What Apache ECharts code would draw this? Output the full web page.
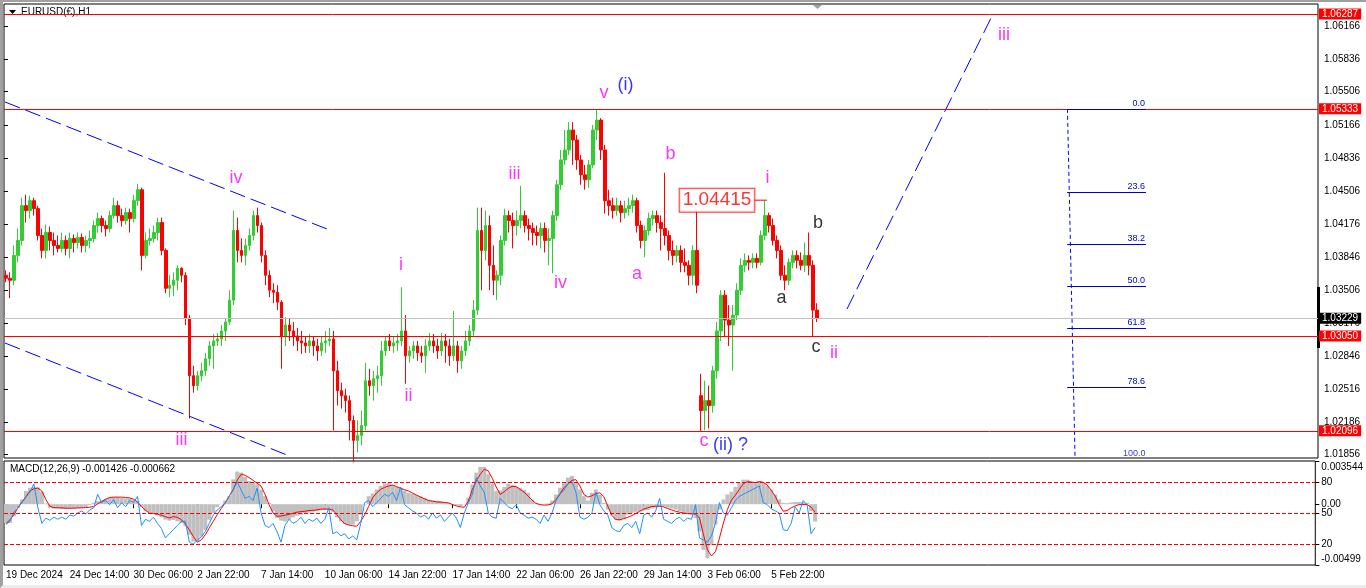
<!DOCTYPE html>
<html><head><meta charset="utf-8">
<script src="https://cdn.jsdelivr.net/npm/echarts@6/dist/echarts.min.js"></script>
<style>
html,body{margin:0;padding:0;background:#fff;}
#c{position:absolute;left:0;top:0;width:1366px;height:588px;}
#frame{position:absolute;left:0;top:0;width:1366px;height:588px;box-sizing:border-box;border-top:2px solid #a0a0a0;border-left:3px solid #a0a0a0;border-bottom:3px solid #ececec;pointer-events:none;}
</style></head><body>
<div id="c"></div><div id="frame"></div>
<script>
// ---- data (H1 EURUSD, aggregated 4 bars per candle: [open, close, low, high]) ----
const candles = [
[1.0366,1.0363,1.0359,1.0371],[1.0363,1.0361,1.0343,1.0369],[1.0361,1.0386,1.0356,1.0396],[1.0386,1.0401,1.0379,1.0413],
[1.0401,1.0436,1.0396,1.0444],[1.0436,1.0431,1.0419,1.0447],[1.0431,1.0441,1.0423,1.0446],[1.0441,1.0433,1.0426,1.0444],
[1.0433,1.0406,1.0401,1.0436],[1.0406,1.0391,1.0383,1.0413],[1.0391,1.0409,1.0383,1.0417],[1.0409,1.0401,1.0391,1.0415],
[1.0401,1.0396,1.0386,1.0409],[1.0396,1.0393,1.0389,1.0406],[1.0393,1.0401,1.0389,1.0409],[1.0401,1.0393,1.0386,1.0406],
[1.0393,1.0403,1.0383,1.0409],[1.0403,1.0399,1.0389,1.0407],[1.0399,1.0404,1.0393,1.0409],[1.0404,1.0396,1.0389,1.0408],
[1.0396,1.0401,1.0389,1.0406],[1.0401,1.0403,1.0393,1.0411],[1.0403,1.0416,1.0399,1.0421],[1.0416,1.0423,1.0409,1.0429],
[1.0423,1.0416,1.0409,1.0426],[1.0416,1.0413,1.0405,1.0421],[1.0413,1.0426,1.0409,1.0431],[1.0426,1.0436,1.0423,1.0444],
[1.0436,1.0426,1.0419,1.0441],[1.0426,1.0421,1.0415,1.0433],[1.0421,1.0429,1.0417,1.0434],[1.0429,1.0423,1.0409,1.0433],
[1.0423,1.0441,1.0419,1.0447],[1.0441,1.0452,1.0436,1.0458],[1.0452,1.0386,1.0371,1.0454],[1.0386,1.0401,1.0383,1.0409],
[1.0401,1.0403,1.0396,1.0413],[1.0403,1.0409,1.0399,1.0416],[1.0409,1.0419,1.0401,1.0424],[1.0419,1.0391,1.0386,1.0424],
[1.0391,1.0353,1.0348,1.0393],[1.0353,1.0356,1.0344,1.0366],[1.0356,1.0361,1.0345,1.0369],[1.0361,1.0373,1.0351,1.0376],
[1.0373,1.0366,1.0359,1.0374],[1.0366,1.0323,1.0316,1.0369],[1.0323,1.0265,1.0222,1.0326],[1.0265,1.0255,1.0248,1.0275],
[1.0255,1.0265,1.0250,1.0270],[1.0265,1.0270,1.0260,1.0278],[1.0270,1.0282,1.0265,1.0288],[1.0282,1.0295,1.0275,1.0300],
[1.0295,1.0300,1.0272,1.0307],[1.0300,1.0302,1.0295,1.0308],[1.0302,1.0310,1.0295,1.0316],[1.0310,1.0319,1.0300,1.0323],
[1.0319,1.0341,1.0316,1.0351],[1.0341,1.0411,1.0336,1.0431],[1.0411,1.0391,1.0379,1.0424],[1.0391,1.0386,1.0379,1.0403],
[1.0386,1.0396,1.0376,1.0403],[1.0396,1.0406,1.0391,1.0413],[1.0406,1.0426,1.0401,1.0431],[1.0426,1.0416,1.0409,1.0434],
[1.0416,1.0386,1.0379,1.0419],[1.0386,1.0366,1.0356,1.0391],[1.0366,1.0351,1.0344,1.0371],[1.0351,1.0349,1.0338,1.0358],
[1.0349,1.0339,1.0331,1.0356],[1.0339,1.0305,1.0272,1.0341],[1.0305,1.0316,1.0295,1.0324],[1.0316,1.0310,1.0300,1.0323],
[1.0310,1.0305,1.0295,1.0319],[1.0305,1.0300,1.0290,1.0313],[1.0300,1.0298,1.0287,1.0310],[1.0298,1.0295,1.0288,1.0305],
[1.0295,1.0300,1.0288,1.0307],[1.0300,1.0295,1.0285,1.0305],[1.0295,1.0290,1.0280,1.0302],[1.0290,1.0298,1.0285,1.0305],
[1.0298,1.0300,1.0288,1.0310],[1.0300,1.0302,1.0295,1.0313],[1.0302,1.0270,1.0210,1.0310],[1.0270,1.0250,1.0235,1.0280],
[1.0250,1.0245,1.0232,1.0258],[1.0245,1.0240,1.0228,1.0252],[1.0240,1.0220,1.0200,1.0245],[1.0220,1.0200,1.0178,1.0225],
[1.0200,1.0205,1.0188,1.0220],[1.0205,1.0215,1.0195,1.0230],[1.0215,1.0260,1.0210,1.0278],[1.0260,1.0255,1.0245,1.0272],
[1.0255,1.0262,1.0240,1.0270],[1.0262,1.0265,1.0248,1.0275],[1.0265,1.0290,1.0255,1.0300],[1.0290,1.0300,1.0285,1.0305],
[1.0300,1.0295,1.0290,1.0307],[1.0295,1.0298,1.0288,1.0305],[1.0298,1.0300,1.0290,1.0307],[1.0300,1.0310,1.0295,1.0354],
[1.0310,1.0285,1.0257,1.0326],[1.0285,1.0290,1.0278,1.0295],[1.0290,1.0295,1.0282,1.0300],[1.0295,1.0288,1.0280,1.0300],
[1.0288,1.0285,1.0278,1.0295],[1.0285,1.0295,1.0268,1.0302],[1.0295,1.0300,1.0290,1.0308],[1.0300,1.0295,1.0288,1.0307],
[1.0295,1.0290,1.0282,1.0302],[1.0290,1.0300,1.0285,1.0308],[1.0300,1.0295,1.0278,1.0307],[1.0295,1.0285,1.0275,1.0302],
[1.0285,1.0295,1.0280,1.0330],[1.0295,1.0280,1.0268,1.0300],[1.0280,1.0290,1.0272,1.0295],[1.0290,1.0300,1.0285,1.0310],
[1.0300,1.0310,1.0295,1.0316],[1.0310,1.0331,1.0305,1.0341],[1.0331,1.0411,1.0326,1.0434],[1.0411,1.0391,1.0351,1.0434],
[1.0391,1.0416,1.0381,1.0431],[1.0416,1.0376,1.0351,1.0426],[1.0376,1.0361,1.0346,1.0396],[1.0361,1.0366,1.0341,1.0371],
[1.0366,1.0401,1.0356,1.0406],[1.0401,1.0426,1.0396,1.0433],[1.0426,1.0421,1.0409,1.0431],[1.0421,1.0416,1.0393,1.0429],
[1.0416,1.0421,1.0406,1.0431],[1.0421,1.0426,1.0413,1.0456],[1.0426,1.0416,1.0409,1.0431],[1.0416,1.0413,1.0401,1.0423],
[1.0413,1.0409,1.0396,1.0419],[1.0409,1.0406,1.0396,1.0416],[1.0406,1.0413,1.0393,1.0419],[1.0413,1.0401,1.0389,1.0419],
[1.0401,1.0403,1.0376,1.0413],[1.0403,1.0426,1.0368,1.0431],[1.0426,1.0457,1.0421,1.0462],[1.0457,1.0482,1.0452,1.0492],
[1.0482,1.0492,1.0477,1.0512],[1.0492,1.0512,1.0487,1.0520],[1.0512,1.0502,1.0477,1.0520],[1.0502,1.0482,1.0472,1.0507],
[1.0482,1.0467,1.0457,1.0487],[1.0467,1.0462,1.0452,1.0477],[1.0462,1.0477,1.0454,1.0482],[1.0477,1.0512,1.0474,1.0517],
[1.0512,1.0522,1.0502,1.0533],[1.0522,1.0492,1.0482,1.0524],[1.0492,1.0441,1.0428,1.0497],[1.0441,1.0436,1.0426,1.0452],
[1.0436,1.0431,1.0423,1.0444],[1.0431,1.0436,1.0426,1.0444],[1.0436,1.0429,1.0419,1.0441],[1.0429,1.0433,1.0423,1.0441],
[1.0433,1.0436,1.0426,1.0444],[1.0436,1.0441,1.0429,1.0447],[1.0441,1.0416,1.0409,1.0444],[1.0416,1.0401,1.0393,1.0421],
[1.0401,1.0411,1.0384,1.0416],[1.0411,1.0423,1.0406,1.0429],[1.0423,1.0426,1.0416,1.0431],[1.0426,1.0419,1.0409,1.0431],
[1.0419,1.0413,1.0391,1.0426],[1.0413,1.0406,1.0396,1.0469],[1.0406,1.0391,1.0381,1.0411],[1.0391,1.0386,1.0376,1.0401],
[1.0386,1.0391,1.0379,1.0396],[1.0391,1.0379,1.0369,1.0396],[1.0379,1.0376,1.0369,1.0393],[1.0376,1.0366,1.0356,1.0381],
[1.0366,1.0391,1.0356,1.0396],[1.0391,1.0356,1.0348,1.0431],[1.0245,1.0230,1.02096,1.0267],[1.0230,1.0240,1.0210,1.0260],
[1.0240,1.0235,1.0212,1.0255],[1.0235,1.0270,1.0228,1.0275],[1.0270,1.0310,1.0262,1.0319],[1.0310,1.0346,1.0300,1.0351],
[1.0346,1.0321,1.0305,1.0351],[1.0321,1.0316,1.0295,1.0336],[1.0316,1.0326,1.0270,1.0336],[1.0326,1.0351,1.0321,1.0358],
[1.0351,1.0376,1.0346,1.0383],[1.0376,1.0381,1.0369,1.0388],[1.0381,1.0379,1.0371,1.0386],[1.0379,1.0383,1.0373,1.0388],
[1.0383,1.0379,1.0373,1.0388],[1.0379,1.0406,1.0376,1.0411],[1.0406,1.0426,1.0401,1.04415],[1.0426,1.0416,1.0409,1.0429],
[1.0416,1.0401,1.0396,1.0423],[1.0401,1.0391,1.0383,1.0406],[1.0391,1.0366,1.0361,1.0396],[1.0366,1.0361,1.0351,1.0376],
[1.0361,1.0379,1.0356,1.0383],[1.0379,1.0386,1.0373,1.0391],[1.0386,1.0381,1.0373,1.0391],[1.0381,1.0376,1.0371,1.0389],
[1.0376,1.0386,1.0369,1.0399],[1.0386,1.0376,1.0366,1.0409],[1.0376,1.0331,1.0305,1.0381],[1.0331,1.0323,1.0319,1.0338]
];
const macdHist = [
-0.00155,-0.00155,-0.00099,-0.00030,0.00039,0.00108,0.00135,0.00141,0.00138,0.00102,
0.00006,-0.00030,-0.00036,-0.00036,-0.00039,-0.00039,-0.00036,-0.00036,-0.00033,-0.00030,
-0.00025,-0.00008,0.00011,0.00025,0.00030,0.00044,0.00052,0.00058,0.00058,0.00052,
0.00047,0.00047,0.00039,0.00025,-0.00025,-0.00058,-0.00066,-0.00072,-0.00086,-0.00108,
-0.00127,-0.00135,-0.00130,-0.00141,-0.00155,-0.00182,-0.00251,-0.00306,-0.00301,-0.00265,
-0.00210,-0.00127,-0.00072,-0.00025,0.00003,0.00030,0.00066,0.00204,0.00268,0.00259,
0.00224,0.00190,0.00179,0.00163,0.00121,0.00066,0.00011,-0.00058,-0.00113,-0.00135,
-0.00141,-0.00127,-0.00108,-0.00094,-0.00086,-0.00075,-0.00069,-0.00061,-0.00055,-0.00050,
-0.00047,-0.00047,-0.00063,-0.00108,-0.00141,-0.00163,-0.00168,-0.00168,-0.00141,-0.00086,
-0.00003,0.00066,0.00088,0.00121,0.00149,0.00171,0.00177,0.00157,0.00141,0.00135,
0.00113,0.00094,0.00086,0.00075,0.00066,0.00052,0.00039,0.00030,0.00028,0.00025,
0.00019,0.00011,-0.00003,-0.00008,-0.00017,-0.00003,0.00052,0.00163,0.00259,0.00306,
0.00306,0.00246,0.00168,0.00108,0.00113,0.00141,0.00168,0.00157,0.00141,0.00135,
0.00119,0.00094,0.00039,0.00008,0.00003,0.00003,0.00006,0.00030,0.00080,0.00135,
0.00177,0.00218,0.00232,0.00177,0.00121,0.00066,0.00030,0.00094,0.00121,0.00080,
0.00011,-0.00044,-0.00091,-0.00127,-0.00135,-0.00119,-0.00086,-0.00072,-0.00063,-0.00058,
-0.00052,-0.00047,-0.00036,-0.00030,-0.00022,-0.00019,-0.00030,-0.00036,-0.00044,-0.00058,
-0.00069,-0.00075,-0.00077,-0.00113,-0.00224,-0.00375,-0.00444,-0.00334,-0.00168,-0.00044,
0.00039,0.00080,0.00102,0.00141,0.00177,0.00201,0.00201,0.00185,0.00179,0.00190,
0.00177,0.00149,0.00121,0.00080,0.00039,0.00011,0.00008,0.00014,0.00019,0.00019,
0.00017,0.00011,-0.00058,-0.00143
];
const macdSignal = [
-0.00160,-0.00127,-0.00086,-0.00030,0.00019,0.00061,0.00108,0.00127,0.00132,0.00108,
0.00039,-0.00017,-0.00028,-0.00030,-0.00030,-0.00033,-0.00033,-0.00033,-0.00030,-0.00030,
-0.00028,-0.00025,-0.00019,0.00003,0.00022,0.00041,0.00055,0.00058,0.00058,0.00058,
0.00055,0.00052,0.00041,0.00017,-0.00019,-0.00050,-0.00072,-0.00077,-0.00083,-0.00091,
-0.00102,-0.00113,-0.00102,-0.00108,-0.00127,-0.00163,-0.00210,-0.00265,-0.00312,-0.00293,
-0.00251,-0.00196,-0.00141,-0.00086,-0.00036,0.00011,0.00066,0.00121,0.00196,0.00246,
0.00237,0.00218,0.00196,0.00171,0.00149,0.00080,-0.00003,-0.00072,-0.00099,-0.00097,
-0.00091,-0.00083,-0.00075,-0.00066,-0.00061,-0.00058,-0.00052,-0.00050,-0.00047,-0.00041,
-0.00039,-0.00041,-0.00047,-0.00086,-0.00127,-0.00160,-0.00171,-0.00177,-0.00182,-0.00141,
-0.00086,-0.00017,0.00052,0.00094,0.00121,0.00138,0.00149,0.00157,0.00144,0.00130,
0.00119,0.00108,0.00091,0.00075,0.00058,0.00044,0.00030,0.00025,0.00019,0.00017,
0.00014,0.00011,-0.00003,-0.00014,-0.00022,-0.00025,0.00025,0.00121,0.00190,0.00246,
0.00287,0.00273,0.00213,0.00141,0.00080,0.00102,0.00130,0.00146,0.00144,0.00121,
0.00099,0.00066,0.00033,0.00006,-0.00003,-0.00008,-0.00006,0.00003,0.00039,0.00086,
0.00135,0.00168,0.00196,0.00201,0.00149,0.00080,0.00058,0.00069,0.00086,0.00094,
0.00061,-0.00017,-0.00091,-0.00127,-0.00127,-0.00119,-0.00108,-0.00094,-0.00077,-0.00058,
-0.00041,-0.00030,-0.00019,-0.00017,-0.00017,-0.00022,-0.00036,-0.00047,-0.00058,-0.00066,
-0.00072,-0.00077,-0.00080,-0.00080,-0.00113,-0.00251,-0.00375,-0.00425,-0.00389,-0.00279,
-0.00155,-0.00044,0.00033,0.00075,0.00121,0.00168,0.00185,0.00182,0.00177,0.00185,
0.00179,0.00157,0.00113,0.00066,-0.00003,-0.00058,-0.00052,-0.00030,-0.00014,-0.00003,
-0.00003,-0.00003,-0.00025,-0.00066
];
const oscLine = [
39,42,51,55,60,65,70,78,55,40, 45,43,46,44,46,44,48,47,50,52,
49,53,55,68,60,62,58,63,55,60, 56,62,60,66,38,44,42,46,40,35,
26,30,34,38,42,42,22,20,24,27, 32,40,48,53,56,60,66,72,80,72,
64,66,62,74,50,38,36,40,32,22, 38,44,40,42,46,40,44,42,45,40,
44,55,30,32,28,30,25,28,24,40, 60,62,56,60,64,68,66,70,62,75,
58,55,52,50,46,48,44,50,45,48, 42,46,50,45,36,50,60,68,84,76,
70,50,46,45,64,60,56,54,58,50, 48,45,46,44,40,48,42,50,62,68,
72,78,80,70,46,44,46,50,70,58, 52,48,36,33,32,38,40,36,42,30,
48,50,46,52,64,44,42,40,44,46, 42,45,44,58,26,24,22,28,40,60,
50,48,55,62,66,68,70,72,74,76, 60,58,54,52,50,34,33,40,56,50,
62,58,30,36
];
const oscLevels = [80, 50, 20];
const tickLabels = ['19 Dec 2024','24 Dec 14:00','30 Dec 06:00','2 Jan 22:00','7 Jan 14:00','10 Jan 06:00','14 Jan 22:00','17 Jan 14:00','22 Jan 06:00','26 Jan 22:00','29 Jan 14:00','3 Feb 06:00','5 Feb 22:00'];
const slotsPerTick = 16;
const nSlots = 329;
const priceTicks = [1.01856,1.02186,1.02516,1.02846,1.03176,1.03506,1.03846,1.04176,1.04506,1.04836,1.05166,1.05506,1.05836,1.06166];
const priceRange = [1.018231, 1.063872];
const macdRange = [-0.00499, 0.003544];
const redLevels = [1.06287, 1.05333, 1.03050, 1.02096];
const bidPrice = 1.03229;
const axisBar = [1.03542, 1.02929];
// annotations: [text, slot, price]
const magentaLabels = [['iv',58.09,1.04638],['iii',44.44,1.02004],['i',99.40,1.03763],['ii',101.28,1.02446],['iii',127.82,1.04678],['iv',139.33,1.03582],['v',150.23,1.05492],['b',166.88,1.04879],['a',158.49,1.03673],['i',191.16,1.04638],['c',175.26,1.01994],['iii',250.38,1.06071],['ii',207.81,1.02879]];
const blueLabels = [['(i)',155.61,1.05573],['(ii) ?',181.9,1.01954]];
const blackLabels = [['b',203.81,1.04186],['a',194.67,1.03432],['c',203.30,1.02934]];
const trendLines = [[[0.25,1.05402],[80.87,1.04125]],[[0.25,1.02979],[70.86,1.01853]],[[211.07,1.03321],[247.63,1.06287]]];
const fibAnchors = [[266.27,1.05333],[268.2,1.0177]];
const fibSpan = [266.2, 285.93];
const fibLevels = [0, 23.6, 38.2, 50.0, 61.8, 78.6];
const priceTag = ['1.04415', 178.52, 1.04415];
const priceTagLine = [[187.78,1.04415],[191.04,1.04415]];

// ---- chart ----
const FONT = '"Liberation Sans", Arial, sans-serif';
const categories = Array.from({length: nSlots}, (_, i) => String(i));
const chart = echarts.init(document.getElementById('c'), null, {renderer: 'canvas'});
const fibHigh = fibAnchors[0][1], fibLow = fibAnchors[1][1];
const showTick = (i) => i % slotsPerTick === 0 && i / slotsPerTick < tickLabels.length;
const labelSeries = (arr, color) => ({
  type: 'scatter', xAxisIndex: 1, yAxisIndex: 0, symbolSize: 1, silent: true, z: 10,
  itemStyle: {color: 'rgba(0,0,0,0)'},
  label: {show: true, position: 'inside', color: color, fontSize: 18, fontFamily: FONT},
  data: arr.map(([t, x, p]) => ({value: [x, p], label: {formatter: t}}))
});
const boxLabel = (v, bg) => ({show: true, position: 'end', distance: 1, formatter: v.toFixed(5), backgroundColor: bg, color: '#fff', padding: [1, 3, 0, 3], fontSize: 10, fontFamily: FONT});
const series = [
  {type: 'candlestick', xAxisIndex: 0, yAxisIndex: 0, data: candles, barWidth: 3, silent: true,
   itemStyle: {color: '#32cd32', color0: '#ff0000', borderColor: '#32cd32', borderColor0: '#ff0000', borderWidth: 1}},
  {type: 'line', xAxisIndex: 1, yAxisIndex: 0, data: [], symbol: 'none', silent: true, z: 3,
   markLine: {silent: true, symbol: ['none', 'none'], animation: false, precision: 6,
     data: redLevels.map(v => ({yAxis: v, lineStyle: {color: '#ff0000', type: 'solid', width: 1}, label: boxLabel(v, '#ff0000')}))
       .concat([{yAxis: bidPrice, lineStyle: {color: '#c0c0c0', type: 'solid', width: 1}, label: boxLabel(bidPrice, '#000')}])}}
];
trendLines.forEach(tl => series.push({type: 'line', xAxisIndex: 1, yAxisIndex: 0, data: tl, symbol: 'none', silent: true,
  lineStyle: {color: '#0000ff', width: 1, type: [16, 6]}}));
series.push({type: 'line', xAxisIndex: 1, yAxisIndex: 0, data: fibAnchors, symbol: 'none', silent: true,
  lineStyle: {color: '#0000ff', width: 1, type: [4, 3]},
  markLine: {silent: true, symbol: ['none', 'none'], animation: false, precision: 6,
    lineStyle: {color: '#0000cc', type: 'solid', width: 1},
    label: {show: true, position: 'insideEndTop', distance: 1, color: '#0000cc', fontSize: 9, fontFamily: FONT, formatter: '{b}'},
    data: fibLevels.map(l => { const p = fibHigh - (fibHigh - fibLow) * l / 100;
      return [{name: l.toFixed(1), coord: [fibSpan[0], p]}, {coord: [fibSpan[1], p]}]; })}});
series.push({type: 'scatter', xAxisIndex: 1, yAxisIndex: 0, symbolSize: 1, silent: true, itemStyle: {color: 'rgba(0,0,0,0)'},
  label: {show: true, position: 'left', distance: 0, color: '#0000cc', fontSize: 9, fontFamily: FONT, formatter: '100.0'},
  data: [[fibSpan[1], 1.01865]]});
series.push(labelSeries(magentaLabels, '#ff00ff'));
series.push(labelSeries(blueLabels, '#0000ff'));
series.push(labelSeries(blackLabels, '#000000'));
series.push({type: 'line', xAxisIndex: 1, yAxisIndex: 0, data: priceTagLine, symbol: 'none', silent: true, lineStyle: {color: '#ff0000', width: 1}});
series.push({type: 'scatter', xAxisIndex: 1, yAxisIndex: 0, symbolSize: 1, silent: true, z: 10, itemStyle: {color: 'rgba(0,0,0,0)'},
  label: {show: true, position: 'inside', formatter: priceTag[0], color: '#ff0000', fontSize: 19, fontFamily: FONT,
    backgroundColor: '#fff', borderColor: '#ff0000', borderWidth: 1, padding: [3, 3, 1, 3]},
  data: [[priceTag[1], priceTag[2]]]});
// MACD panel
series.push({type: 'bar', xAxisIndex: 2, yAxisIndex: 1, data: macdHist, barWidth: '100%', barCategoryGap: '0%', silent: true, itemStyle: {color: '#c0c0c0'}});
series.push({type: 'line', xAxisIndex: 2, yAxisIndex: 2, data: [], symbol: 'none', silent: true,
  markLine: {silent: true, symbol: ['none', 'none'], animation: false, label: {show: false},
    lineStyle: {color: '#ff0000', type: [4, 2], width: 1}, data: oscLevels.map(v => ({yAxis: v}))}});
series.push({type: 'line', xAxisIndex: 2, yAxisIndex: 1, data: macdSignal, symbol: 'none', silent: true, lineStyle: {color: '#ff0000', width: 1}});
series.push({type: 'line', xAxisIndex: 2, yAxisIndex: 2, data: oscLine, symbol: 'none', silent: true, lineStyle: {color: '#1e90ff', width: 1}});

const axisTxt = {color: '#000', fontSize: 10, fontFamily: FONT};
const option = {
  animation: false,
  backgroundColor: '#fff',
  grid: [
    {left: 4, top: 4, width: 1314, height: 454, show: true, borderColor: '#000', borderWidth: 1, backgroundColor: '#fff'},
    {left: 4, top: 461, width: 1314, height: 104, show: true, borderColor: '#000', borderWidth: 1, backgroundColor: '#fff'}
  ],
  xAxis: [
    {type: 'category', gridIndex: 0, data: categories, boundaryGap: true, axisLine: {show: false}, axisTick: {show: false}, axisLabel: {show: false}, splitLine: {show: false}},
    {type: 'value', gridIndex: 0, min: 0, max: nSlots, show: false},
    {type: 'category', gridIndex: 1, data: categories, boundaryGap: true, axisLine: {show: false}, splitLine: {show: false},
     axisTick: {show: true, alignWithLabel: true, length: 4, interval: showTick, lineStyle: {color: '#000'}},
     axisLabel: Object.assign({show: true, interval: showTick, align: 'left', margin: 5,
       formatter: (v, i) => tickLabels[Number(v) / slotsPerTick] || ''}, axisTxt)}
  ],
  yAxis: [
    {type: 'value', gridIndex: 0, position: 'right', min: priceRange[0], max: priceRange[1],
     axisLine: {show: false}, splitLine: {show: false},
     axisTick: {show: true, length: 4, customValues: priceTicks, lineStyle: {color: '#000'}},
     axisLabel: Object.assign({show: true, customValues: priceTicks, margin: 6, formatter: v => v.toFixed(5)}, axisTxt)},
    {type: 'value', gridIndex: 1, position: 'right', min: macdRange[0], max: macdRange[1],
     axisLine: {show: false}, splitLine: {show: false},
     axisTick: {show: true, length: 4, customValues: [macdRange[0], 0, macdRange[1]], lineStyle: {color: '#000'}},
     axisLabel: Object.assign({show: true, customValues: [macdRange[0], 0, macdRange[1]], margin: 6,
       formatter: v => v === macdRange[1] ? '{t|' + v.toFixed(6) + '}' : (v === macdRange[0] ? '{b|' + v.toFixed(5) + '}' : '0.00'),
       rich: {t: {padding: [12, 0, 0, 0], color: '#000', fontSize: 10, fontFamily: FONT}, b: {padding: [0, 0, 12, 0], color: '#000', fontSize: 10, fontFamily: FONT}}}, axisTxt)},
    {type: 'value', gridIndex: 1, position: 'right', min: 0, max: 100,
     axisLine: {show: false}, splitLine: {show: false},
     axisTick: {show: true, length: 4, customValues: oscLevels, lineStyle: {color: '#000'}},
     axisLabel: Object.assign({show: true, customValues: oscLevels, margin: 6}, axisTxt)}
  ],
  graphic: [
    {type: 'polygon', id: 'tri', shape: {points: [[9, 10], [16, 10], [12.5, 14]]}, style: {fill: '#000'}, silent: true},
    {type: 'text', id: 'title', left: 21, top: 7, silent: true, style: {text: 'EURUSD(€),H1', fill: '#000', font: '10px "Liberation Sans", Arial'}},
    {type: 'polygon', id: 'shift', shape: {points: [[813, 5], [822, 5], [817.5, 9]]}, style: {fill: '#a0a0a0'}, silent: true},
    {type: 'text', id: 'macdTitle', left: 10, top: 464, silent: true, style: {text: 'MACD(12,26,9) -0.001426 -0.000662', fill: '#000', font: '10px "Liberation Sans", Arial'}}
  ],
  series: series
};
chart.setOption(option);
const yTop = chart.convertToPixel({yAxisIndex: 0}, axisBar[0]);
const yBot = chart.convertToPixel({yAxisIndex: 0}, axisBar[1]);
chart.setOption({graphic: [{type: 'rect', id: 'axisBar', shape: {x: 1317, y: yTop, width: 3, height: yBot - yTop}, style: {fill: '#000'}, silent: true}]});
</script>
</body></html>
